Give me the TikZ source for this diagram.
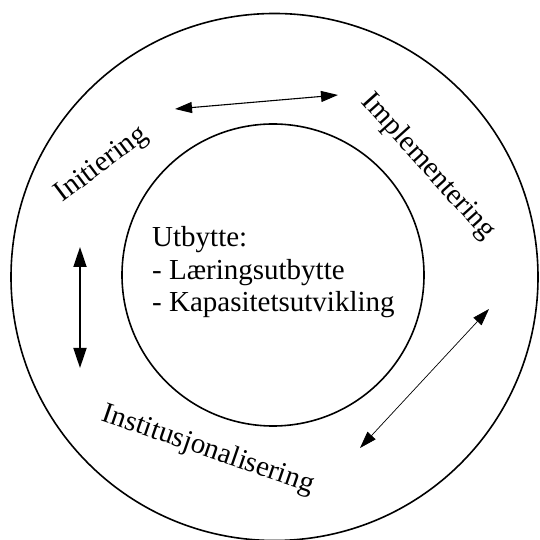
\documentclass[tikz,border=0pt]{standalone}
\usepackage{fontspec}
\setmainfont{Liberation Serif}
\usetikzlibrary{arrows.meta, positioning}

\begin{document}
\begin{tikzpicture}[
  x=1pt, y=1pt,
  every node/.style={font=\fontsize{29}{32.5}\selectfont, inner sep=0pt},
  ring/.style={circle, draw=black, line width=1.6pt, inner sep=0pt},
  phase/.style={anchor=center},
  twoway/.style={{Triangle[length=17pt, width=11pt]}-{Triangle[length=17pt, width=11pt]}}
]
  \useasboundingbox (0,0) rectangle (539,540);

  % rings
  \node[ring, minimum size=527pt] (outer) at (274.5,263) {};
  \node[ring, minimum size=302pt] (inner) at (273,265) {};

  % outcome text
  \node[anchor=base west, align=left] (utbytte) at (152,228)
    {Utbytte:\\- Læringsutbytte\\- Kapasitetsutvikling};

  % phases
  \node[phase, rotate=37]  (init) at (102,375) {Initiering};
  \node[phase, rotate=-48] (impl) at (428,373) {Implementering};
  \node[phase, rotate=-19] (inst) at (208,90)  {Institusjonalisering};

  % arrow ends
  \coordinate (init-e) at (175,431);
  \coordinate (impl-w) at (338,445);
  \coordinate (init-s) at (80,293);
  \coordinate (inst-n) at (80,172);
  \coordinate (impl-s) at (489,231);
  \coordinate (inst-e) at (360,92);

  \draw[twoway, line width=1.1pt] (init-e) -- (impl-w);
  \draw[twoway, line width=1.8pt,
        {Triangle[length=20pt, width=13pt]}-{Triangle[length=20pt, width=13pt]}] (init-s) -- (inst-n);
  \draw[twoway, line width=0.7pt] (impl-s) -- (inst-e);
\end{tikzpicture}
\end{document}
